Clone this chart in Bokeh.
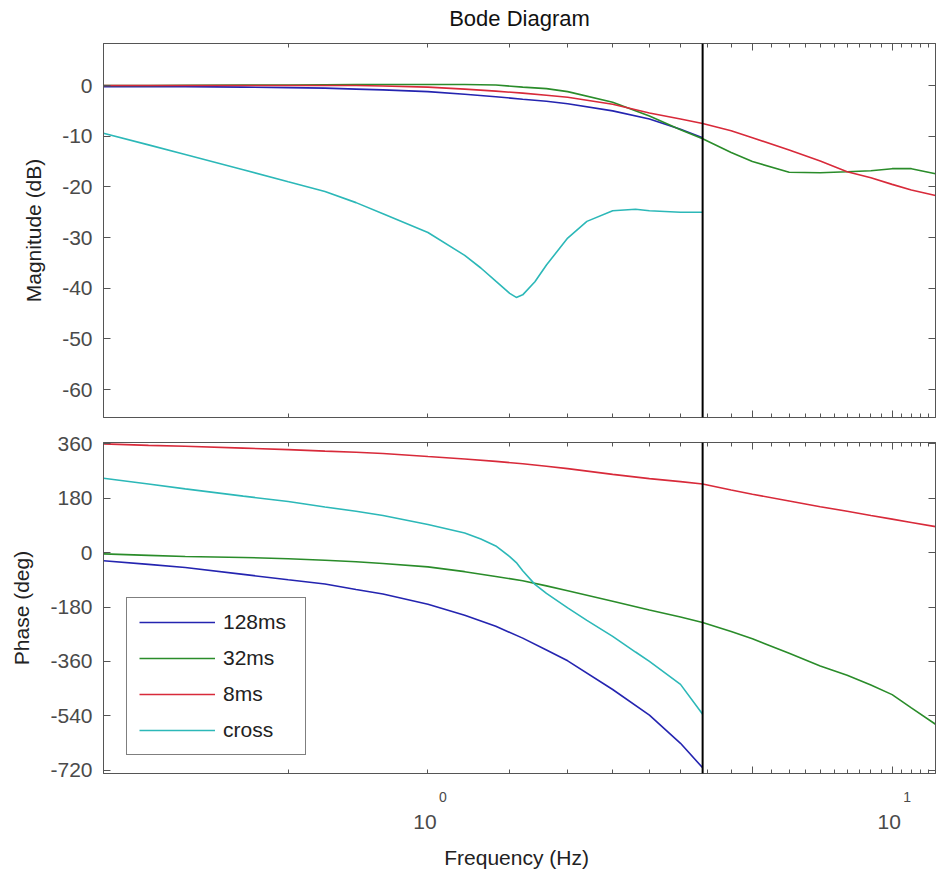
from bokeh.plotting import figure
from bokeh.models import (Span, LogAxis, LinearAxis, FixedTicker, Range1d, Legend, LegendItem, LogTicker,
                          CustomJSTickFormatter)
from bokeh.layouts import column
from bokeh.embed import file_html
from bokeh.resources import INLINE

# ---------------- data ----------------
NYQUIST = 3.906

FREQ_128 = [0.2, 0.25, 0.3, 0.4, 0.5, 0.6, 0.7, 0.8, 1.0, 1.2, 1.4, 1.6, 1.8, 2.0, 2.5, 3.0, 3.5, 3.906]
MAG_128 = [-0.2, -0.2, -0.2, -0.3, -0.4, -0.5, -0.7, -0.85, -1.2, -1.7, -2.2, -2.7, -3.1, -3.6, -5.0, -6.6, -8.6, -10.3]
PH_128 = [-27, -39, -49, -72, -90, -104, -122, -137, -171, -207, -244, -283, -322, -358, -453, -538, -631, -712]

FREQ_32 = [0.2, 0.25, 0.3, 0.4, 0.5, 0.6, 0.7, 0.8, 1.0, 1.2, 1.4, 1.6, 1.8, 2.0, 2.5, 3.0, 3.5, 3.906,
           4.5, 5, 6, 7, 8, 9, 10, 11, 12.4]
MAG_32 = [0.0, 0.0, 0.05, 0.1, 0.1, 0.15, 0.2, 0.2, 0.2, 0.2, 0.1, -0.3, -0.6, -1.2, -3.3, -6.0, -8.7, -10.5,
          -13.2, -15.0, -17.1, -17.2, -17.0, -16.8, -16.4, -16.4, -17.4]
PH_32 = [-4, -9, -13, -16, -20, -25, -30, -36, -47, -63, -79, -93, -110, -126, -161, -190, -213, -231,
         -261, -285, -333, -375, -406, -438, -470, -514, -568]

FREQ_8 = FREQ_32
MAG_8 = [0.0, 0.0, 0.0, 0.0, 0.0, 0.0, 0.0, -0.1, -0.3, -0.7, -1.1, -1.5, -1.9, -2.3, -3.7, -5.4, -6.6, -7.5,
         -8.9, -10.3, -12.7, -14.9, -17.0, -18.2, -19.5, -20.6, -21.7]
PH_8 = [360, 355, 352, 346, 341, 336, 332, 328, 318, 310, 302, 294, 286, 278, 259, 245, 235, 227,
        207, 193, 171, 152, 137, 123, 111, 100, 86]

FREQ_X = [0.2, 0.25, 0.3, 0.4, 0.5, 0.6, 0.7, 0.8, 1.0, 1.2, 1.3, 1.4, 1.5, 1.55, 1.6, 1.7, 1.8, 2.0, 2.2, 2.5,
          2.8, 3.0, 3.5, 3.906]
MAG_X = [-9.4, -11.7, -13.6, -16.6, -19.0, -20.9, -23.1, -25.3, -29.0, -33.5, -36.0, -38.6, -41.0, -41.8, -41.3,
         -38.7, -35.4, -30.1, -26.8, -24.7, -24.4, -24.7, -25.0, -25.0]
PH_X = [246, 227, 211, 187, 169, 151, 137, 123, 93, 65, 45, 22, -13, -33, -60, -105, -135, -183, -224, -277,
        -329, -360, -436, -535]

SERIES = ["128ms", "32ms", "8ms", "cross"]
COLORS = ["#2424b0", "#2a8c2a", "#d82a3a", "#2cb8b8"]

TITLE = "Bode Diagram"
MAG_TICKS = [0, -10, -20, -30, -40, -50, -60]
PH_TICKS = [360, 180, 0, -180, -360, -540, -720]
X_DECADES = [1, 10]
X_EXPONENTS = ["0", "1"]
X_RANGE = (0.2, 12.4)
MAG_RANGE = (-65.5, 8.3)
PH_RANGE = (-731, 364.5)

FONT = "Liberation Sans"
TICK_COLOR = "#4a4a4a"
FRAME_COLOR = "#555555"
TICK_FS = "21px"
LABEL_FS = "21px"

data = [
    (FREQ_128, MAG_128, PH_128),
    (FREQ_32, MAG_32, PH_32),
    (FREQ_8, MAG_8, PH_8),
    (FREQ_X, MAG_X, PH_X),
]

EMPTY = CustomJSTickFormatter(code="return '';")
PLAIN = CustomJSTickFormatter(code="return tick.toString();")


def style_axis(ax, labels=True):
    ax.major_tick_in = 7
    ax.major_tick_out = 0
    ax.minor_tick_in = 4
    ax.minor_tick_out = 0
    ax.axis_line_color = FRAME_COLOR
    ax.major_tick_line_color = FRAME_COLOR
    ax.minor_tick_line_color = FRAME_COLOR
    ax.major_label_text_font = FONT
    ax.major_label_text_color = TICK_COLOR
    ax.major_label_text_font_size = TICK_FS
    ax.major_label_standoff = 11 if labels else 0
    if not labels:
        ax.formatter = EMPTY
    ax.axis_label_text_font = FONT
    ax.axis_label_text_font_size = LABEL_FS
    ax.axis_label_text_font_style = "normal"
    ax.axis_label_text_color = "#222222"


def make_fig(height, y_range, yticks, ylabel, border_top, border_bottom, title=None):
    p = figure(width=936, height=height, x_axis_type="log", output_backend="svg",
               toolbar_location=None, x_range=Range1d(*X_RANGE), y_range=Range1d(*y_range),
               min_border_left=103, min_border_right=1, min_border_top=border_top,
               min_border_bottom=border_bottom)
    p.xgrid.visible = False
    p.ygrid.visible = False
    p.outline_line_color = FRAME_COLOR
    p.background_fill_color = "white"
    p.border_fill_color = "white"
    p.xaxis.ticker = LogTicker(num_minor_ticks=10)
    style_axis(p.xaxis[0], labels=False)
    p.yaxis.ticker = FixedTicker(ticks=yticks, minor_ticks=[])
    style_axis(p.yaxis[0])
    p.yaxis.formatter = PLAIN
    p.yaxis.axis_label = ylabel
    p.yaxis.axis_label_standoff = 14
    top = LogAxis(ticker=LogTicker(num_minor_ticks=10))
    style_axis(top, labels=False)
    if title is not None:
        # chart title drawn as the label of the top (tick-only) axis
        top.axis_label = title
        top.axis_label_text_font_size = "22px"
        top.axis_label_text_color = "#111111"
        top.axis_label_standoff = 13
    p.add_layout(top, "above")
    right = LinearAxis(ticker=FixedTicker(ticks=yticks, minor_ticks=[]))
    style_axis(right, labels=False)
    p.add_layout(right, "right")
    p.add_layout(Span(location=NYQUIST, dimension="height", line_color="black", line_width=2))
    return p


p1 = make_fig(429, MAG_RANGE, MAG_TICKS, "Magnitude (dB)", 43, 12, title=TITLE)
p2 = make_fig(448, PH_RANGE, PH_TICKS, "Phase (deg)", 13, 104)

items = []
for name, color, (f, m, ph) in zip(SERIES, COLORS, data):
    p1.line(f, m, line_color=color, line_width=1.6)
    r = p2.line(f, ph, line_color=color, line_width=1.6)
    items.append(LegendItem(label=name, renderers=[r]))

legend = Legend(items=items, location=(23, 18))
legend.label_text_font = FONT
legend.label_text_font_size = "21px"
legend.label_text_color = "#222222"
legend.glyph_width = 76
legend.glyph_height = 22
legend.label_width = 70
legend.label_standoff = 8
legend.spacing = 12
legend.padding = 12
legend.border_line_color = "black"
legend.border_line_width = 1.5
legend.background_fill_alpha = 1.0
p2.add_layout(legend, "center")

# decade tick labels drawn MATLAB-style: exponent row, then "10" row, then axis title
exp_axis = LogAxis(ticker=FixedTicker(ticks=[d * 10 ** (15 / 465.0) for d in X_DECADES], minor_ticks=[]),
                   formatter=CustomJSTickFormatter(code="return tick < 5 ? '%s' : '%s';" % tuple(X_EXPONENTS)))
exp_axis.major_tick_in = 0
exp_axis.major_tick_out = 0
exp_axis.minor_tick_in = 0
exp_axis.minor_tick_out = 0
exp_axis.axis_line_color = None
exp_axis.major_label_text_font = FONT
exp_axis.major_label_text_font_size = "14px"
exp_axis.major_label_text_color = TICK_COLOR
exp_axis.major_label_standoff = 18
p2.add_layout(exp_axis, "below")

base_axis = LogAxis(ticker=FixedTicker(ticks=[d * 10 ** (-3 / 465.0) for d in X_DECADES], minor_ticks=[]),
                    formatter=CustomJSTickFormatter(code="return '10';"))
base_axis.major_tick_in = 0
base_axis.major_tick_out = 0
base_axis.minor_tick_in = 0
base_axis.minor_tick_out = 0
base_axis.axis_line_color = None
base_axis.major_label_text_font = FONT
base_axis.major_label_text_font_size = TICK_FS
base_axis.major_label_text_color = TICK_COLOR
base_axis.major_label_standoff = 10
base_axis.axis_label = "Frequency  (Hz)"
base_axis.axis_label_text_font = FONT
base_axis.axis_label_text_font_size = LABEL_FS
base_axis.axis_label_text_font_style = "normal"
base_axis.axis_label_text_color = "#222222"
base_axis.axis_label_standoff = 14
p2.add_layout(base_axis, "below")

layout = column(p1, p2, spacing=0)
open("out.html", "w").write(file_html(layout, INLINE))
